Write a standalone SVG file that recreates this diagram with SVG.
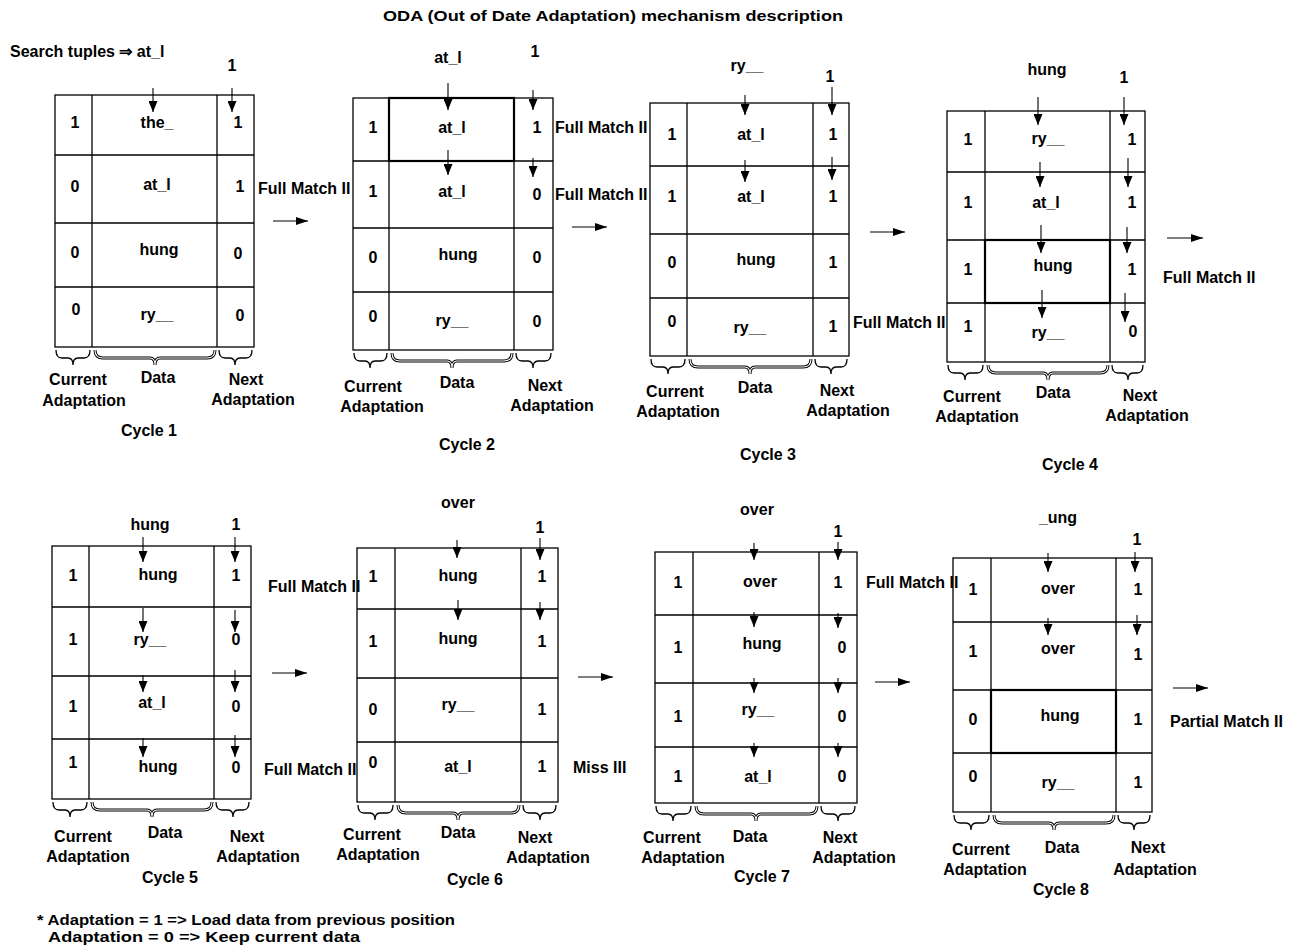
<svg xmlns="http://www.w3.org/2000/svg" width="1295" height="950" viewBox="0 0 1295 950">
<defs>
<style>
.t{font-family:"Liberation Sans",Arial,sans-serif;font-weight:bold;font-size:16px;fill:#000}
.m{text-anchor:middle}
.s{font-size:15px}
.grid{fill:none;stroke:#000;stroke-width:1.3}
.thick{fill:none;stroke:#000;stroke-width:2.2}
.ar{fill:none;stroke:#000;stroke-width:1.1;marker-end:url(#ah)}
.har{fill:none;stroke:#000;stroke-width:1.1;marker-end:url(#hh)}
.br{fill:none;stroke:#000;stroke-width:1.3}
.bro{fill:none;stroke:#000;stroke-width:3}
.bri{fill:none;stroke:#fff;stroke-width:1.1}
</style>
<marker id="ah" viewBox="0 0 11 9" refX="11" refY="4.5" markerWidth="11" markerHeight="9" markerUnits="userSpaceOnUse" orient="auto">
<path d="M0,0 L11,4.5 L0,9 z" fill="#000"/>
</marker>
<marker id="hh" viewBox="0 0 12 8" refX="12" refY="4" markerWidth="12" markerHeight="8" markerUnits="userSpaceOnUse" orient="auto">
<path d="M0,0 L12,4 L0,8 z" fill="#000"/>
</marker>
</defs>
<rect width="1295" height="950" fill="#fff"/>

<g id="title">
<text class="t m s" x="613" y="21" textLength="460" lengthAdjust="spacingAndGlyphs">ODA (Out of Date Adaptation) mechanism description</text>
<text class="t" x="10" y="57">Search tuples ⇒ at_l</text>
</g>

<!-- Cycle 1 -->
<g id="cycle1">
<rect class="grid" x="55" y="95" width="199" height="252"/>
<path class="grid" d="M92,95V347M217,95V347M55,155H254M55,223H254M55,287H254"/>
<text class="t m" x="232" y="71">1</text>
<text class="t m" x="75" y="128">1</text><text class="t m" x="157" y="128">the_</text><text class="t m" x="238" y="128">1</text>
<text class="t m" x="75" y="192">0</text><text class="t m" x="157" y="190">at_l</text><text class="t m" x="240" y="192">1</text>
<text class="t m" x="75" y="258">0</text><text class="t m" x="159" y="255">hung</text><text class="t m" x="238" y="259">0</text>
<text class="t m" x="76" y="315">0</text><text class="t m" x="157" y="320">ry__</text><text class="t m" x="240" y="321">0</text>
<text class="t" x="258" y="194">Full Match II</text>
<path class="br" d="M56,350Q56,358 62,358L68,358Q73,358 73,365Q73,358 78,358L84,358Q90,358 90,350"/>
<path class="bro" d="M95,350Q95,358 103,358L150,358Q155,358 155,365Q155,358 160,358L207,358Q215,358 215,350"/>
<path class="bri" d="M95,350Q95,358 103,358L150,358Q155,358 155,365Q155,358 160,358L207,358Q215,358 215,350"/>
<path class="br" d="M219,350Q219,358 225,358L230,358Q235,358 235,365Q235,358 240,358L246,358Q252,358 252,350"/>
<text class="t m" x="78" y="385">Current</text><text class="t m" x="84" y="406">Adaptation</text>
<text class="t m" x="158" y="383">Data</text>
<text class="t m" x="246" y="385">Next</text><text class="t m" x="253" y="405">Adaptation</text>
<text class="t m" x="149" y="436">Cycle 1</text>
</g>

<!-- Cycle 2 -->
<g id="cycle2">
<rect class="grid" x="353" y="98" width="200" height="252"/>
<path class="grid" d="M389,98V350M514,98V350M353,161H553M353,228H553M353,292H553"/>
<rect class="thick" x="389" y="98" width="125" height="63"/>
<text class="t m" x="448" y="63">at_l</text><text class="t m" x="535" y="57">1</text>
<text class="t m" x="373" y="133">1</text><text class="t m" x="452" y="133">at_l</text><text class="t m" x="537" y="133">1</text>
<text class="t m" x="373" y="197">1</text><text class="t m" x="452" y="197">at_l</text><text class="t m" x="537" y="200">0</text>
<text class="t m" x="373" y="263">0</text><text class="t m" x="458" y="260">hung</text><text class="t m" x="537" y="263">0</text>
<text class="t m" x="373" y="322">0</text><text class="t m" x="452" y="326">ry__</text><text class="t m" x="537" y="327">0</text>
<text class="t" x="555" y="133">Full Match II</text>
<text class="t" x="555" y="200">Full Match II</text>
<path class="br" d="M354,353Q354,361 360,361L365,361Q370,361 370,368Q370,361 375,361L381,361Q387,361 387,353"/>
<path class="bro" d="M392,353Q392,361 400,361L447,361Q452,361 452,368Q452,361 457,361L504,361Q512,361 512,353"/>
<path class="bri" d="M392,353Q392,361 400,361L447,361Q452,361 452,368Q452,361 457,361L504,361Q512,361 512,353"/>
<path class="br" d="M516,353Q516,361 522,361L528,361Q533,361 533,368Q533,361 538,361L545,361Q551,361 551,353"/>
<text class="t m" x="373" y="392">Current</text><text class="t m" x="382" y="412">Adaptation</text>
<text class="t m" x="457" y="388">Data</text>
<text class="t m" x="545" y="391">Next</text><text class="t m" x="552" y="411">Adaptation</text>
<text class="t m" x="467" y="450">Cycle 2</text>
</g>

<!-- Cycle 3 -->
<g id="cycle3">
<rect class="grid" x="650" y="103" width="199" height="253"/>
<path class="grid" d="M687,103V356M813,103V356M650,166H849M650,234H849M650,298H849"/>
<text class="t m" x="747" y="71">ry__</text><text class="t m" x="830" y="82">1</text>
<text class="t m" x="672" y="140">1</text><text class="t m" x="751" y="140">at_l</text><text class="t m" x="833" y="140">1</text>
<text class="t m" x="672" y="202">1</text><text class="t m" x="751" y="202">at_l</text><text class="t m" x="833" y="202">1</text>
<text class="t m" x="672" y="268">0</text><text class="t m" x="756" y="265">hung</text><text class="t m" x="833" y="268">1</text>
<text class="t m" x="672" y="327">0</text><text class="t m" x="750" y="333">ry__</text><text class="t m" x="833" y="332">1</text>
<text class="t" x="853" y="328">Full Match II</text>
<path class="br" d="M651,359Q651,367 657,367L663,367Q668,367 668,374Q668,367 673,367L679,367Q685,367 685,359"/>
<path class="bro" d="M690,359Q690,367 698,367L745,367Q750,367 750,374Q750,367 755,367L803,367Q811,367 811,359"/>
<path class="bri" d="M690,359Q690,367 698,367L745,367Q750,367 750,374Q750,367 755,367L803,367Q811,367 811,359"/>
<path class="br" d="M815,359Q815,367 821,367L826,367Q831,367 831,374Q831,367 836,367L841,367Q847,367 847,359"/>
<text class="t m" x="675" y="397">Current</text><text class="t m" x="678" y="417">Adaptation</text>
<text class="t m" x="755" y="393">Data</text>
<text class="t m" x="837" y="396">Next</text><text class="t m" x="848" y="416">Adaptation</text>
<text class="t m" x="768" y="460">Cycle 3</text>
</g>

<!-- Cycle 4 -->
<g id="cycle4">
<rect class="grid" x="947" y="111" width="198" height="251"/>
<path class="grid" d="M985,111V362M1110,111V362M947,172H1145M947,240H1145M947,303H1145"/>
<rect class="thick" x="985" y="240" width="125" height="63"/>
<text class="t m" x="1047" y="75">hung</text><text class="t m" x="1124" y="83">1</text>
<text class="t m" x="968" y="145">1</text><text class="t m" x="1048" y="144">ry__</text><text class="t m" x="1132" y="145">1</text>
<text class="t m" x="968" y="208">1</text><text class="t m" x="1046" y="208">at_l</text><text class="t m" x="1132" y="208">1</text>
<text class="t m" x="968" y="275">1</text><text class="t m" x="1053" y="271">hung</text><text class="t m" x="1132" y="275">1</text>
<text class="t m" x="968" y="332">1</text><text class="t m" x="1048" y="338">ry__</text><text class="t m" x="1133" y="337">0</text>
<text class="t" x="1163" y="283">Full Match II</text>
<path class="br" d="M948,365Q948,373 954,373L960,373Q965,373 965,380Q965,373 970,373L977,373Q983,373 983,365"/>
<path class="bro" d="M988,365Q988,373 996,373L1043,373Q1048,373 1048,380Q1048,373 1053,373L1100,373Q1108,373 1108,365"/>
<path class="bri" d="M988,365Q988,373 996,373L1043,373Q1048,373 1048,380Q1048,373 1053,373L1100,373Q1108,373 1108,365"/>
<path class="br" d="M1112,365Q1112,373 1118,373L1123,373Q1128,373 1128,380Q1128,373 1133,373L1137,373Q1143,373 1143,365"/>
<text class="t m" x="972" y="402">Current</text><text class="t m" x="977" y="422">Adaptation</text>
<text class="t m" x="1053" y="398">Data</text>
<text class="t m" x="1140" y="401">Next</text><text class="t m" x="1147" y="421">Adaptation</text>
<text class="t m" x="1070" y="470">Cycle 4</text>
</g>

<!-- Cycle 5 -->
<g id="cycle5">
<rect class="grid" x="52" y="546" width="199" height="253"/>
<path class="grid" d="M89,546V799M214,546V799M52,607H251M52,676H251M52,739H251"/>
<text class="t m" x="150" y="530">hung</text><text class="t m" x="236" y="530">1</text>
<text class="t m" x="73" y="581">1</text><text class="t m" x="158" y="580">hung</text><text class="t m" x="236" y="581">1</text>
<text class="t m" x="73" y="645">1</text><text class="t m" x="150" y="645">ry__</text><text class="t m" x="236" y="645">0</text>
<text class="t m" x="73" y="712">1</text><text class="t m" x="152" y="708">at_l</text><text class="t m" x="236" y="712">0</text>
<text class="t m" x="73" y="768">1</text><text class="t m" x="158" y="772">hung</text><text class="t m" x="236" y="773">0</text>
<text class="t" x="268" y="592">Full Match II</text>
<text class="t" x="264" y="775">Full Match II</text>
<path class="br" d="M53,802Q53,810 59,810L65,810Q70,810 70,817Q70,810 75,810L81,810Q87,810 87,802"/>
<path class="bro" d="M92,802Q92,810 100,810L147,810Q152,810 152,817Q152,810 157,810L204,810Q212,810 212,802"/>
<path class="bri" d="M92,802Q92,810 100,810L147,810Q152,810 152,817Q152,810 157,810L204,810Q212,810 212,802"/>
<path class="br" d="M216,802Q216,810 222,810L228,810Q233,810 233,817Q233,810 238,810L243,810Q249,810 249,802"/>
<text class="t m" x="83" y="842">Current</text><text class="t m" x="88" y="862">Adaptation</text>
<text class="t m" x="165" y="838">Data</text>
<text class="t m" x="247" y="842">Next</text><text class="t m" x="258" y="862">Adaptation</text>
<text class="t m" x="170" y="883">Cycle 5</text>
</g>

<!-- Cycle 6 -->
<g id="cycle6">
<rect class="grid" x="357" y="548" width="201" height="254"/>
<path class="grid" d="M395,548V802M521,548V802M357,609H558M357,678H558M357,742H558"/>
<text class="t m" x="458" y="508">over</text><text class="t m" x="540" y="533">1</text>
<text class="t m" x="373" y="582">1</text><text class="t m" x="458" y="581">hung</text><text class="t m" x="542" y="582">1</text>
<text class="t m" x="373" y="647">1</text><text class="t m" x="458" y="644">hung</text><text class="t m" x="542" y="647">1</text>
<text class="t m" x="373" y="715">0</text><text class="t m" x="458" y="710">ry__</text><text class="t m" x="542" y="715">1</text>
<text class="t m" x="373" y="768">0</text><text class="t m" x="458" y="772">at_l</text><text class="t m" x="542" y="772">1</text>
<text class="t" x="573" y="773">Miss III</text>
<path class="br" d="M358,805Q358,813 364,813L370,813Q375,813 375,820Q375,813 380,813L387,813Q393,813 393,805"/>
<path class="bro" d="M398,805Q398,813 406,813L453,813Q458,813 458,820Q458,813 463,813L511,813Q519,813 519,805"/>
<path class="bri" d="M398,805Q398,813 406,813L453,813Q458,813 458,820Q458,813 463,813L511,813Q519,813 519,805"/>
<path class="br" d="M523,805Q523,813 529,813L535,813Q540,813 540,820Q540,813 545,813L550,813Q556,813 556,805"/>
<text class="t m" x="372" y="840">Current</text><text class="t m" x="378" y="860">Adaptation</text>
<text class="t m" x="458" y="838">Data</text>
<text class="t m" x="535" y="843">Next</text><text class="t m" x="548" y="863">Adaptation</text>
<text class="t m" x="475" y="885">Cycle 6</text>
</g>

<!-- Cycle 7 -->
<g id="cycle7">
<rect class="grid" x="655" y="552" width="202" height="251"/>
<path class="grid" d="M693,552V803M819,552V803M655,615H857M655,683H857M655,747H857"/>
<text class="t m" x="757" y="515">over</text><text class="t m" x="838" y="537">1</text>
<text class="t m" x="678" y="588">1</text><text class="t m" x="760" y="587">over</text><text class="t m" x="838" y="588">1</text>
<text class="t m" x="678" y="653">1</text><text class="t m" x="762" y="649">hung</text><text class="t m" x="842" y="653">0</text>
<text class="t m" x="678" y="722">1</text><text class="t m" x="758" y="715">ry__</text><text class="t m" x="842" y="722">0</text>
<text class="t m" x="678" y="782">1</text><text class="t m" x="758" y="782">at_l</text><text class="t m" x="842" y="782">0</text>
<text class="t" x="866" y="588">Full Match II</text>
<path class="br" d="M656,806Q656,814 662,814L668,814Q673,814 673,821Q673,814 678,814L685,814Q691,814 691,806"/>
<path class="bro" d="M696,806Q696,814 704,814L751,814Q756,814 756,821Q756,814 761,814L809,814Q817,814 817,806"/>
<path class="bri" d="M696,806Q696,814 704,814L751,814Q756,814 756,821Q756,814 761,814L809,814Q817,814 817,806"/>
<path class="br" d="M821,806Q821,814 827,814L833,814Q838,814 838,821Q838,814 843,814L849,814Q855,814 855,806"/>
<text class="t m" x="672" y="843">Current</text><text class="t m" x="683" y="863">Adaptation</text>
<text class="t m" x="750" y="842">Data</text>
<text class="t m" x="840" y="843">Next</text><text class="t m" x="854" y="863">Adaptation</text>
<text class="t m" x="762" y="882">Cycle 7</text>
</g>

<!-- Cycle 8 -->
<g id="cycle8">
<rect class="grid" x="953" y="558" width="199" height="254"/>
<path class="grid" d="M991,558V812M1116,558V812M953,622H1152M953,690H1152M953,753H1152"/>
<rect class="thick" x="991" y="690" width="125" height="63"/>
<text class="t m" x="1058" y="523">_ung</text><text class="t m" x="1137" y="545">1</text>
<text class="t m" x="973" y="595">1</text><text class="t m" x="1058" y="594">over</text><text class="t m" x="1138" y="595">1</text>
<text class="t m" x="973" y="657">1</text><text class="t m" x="1058" y="654">over</text><text class="t m" x="1138" y="660">1</text>
<text class="t m" x="973" y="725">0</text><text class="t m" x="1060" y="721">hung</text><text class="t m" x="1138" y="725">1</text>
<text class="t m" x="973" y="782">0</text><text class="t m" x="1058" y="788">ry__</text><text class="t m" x="1138" y="788">1</text>
<text class="t" x="1170" y="727">Partial Match II</text>
<path class="br" d="M954,815Q954,823 960,823L966,823Q971,823 971,830Q971,823 976,823L983,823Q989,823 989,815"/>
<path class="bro" d="M994,815Q994,823 1002,823L1049,823Q1054,823 1054,830Q1054,823 1059,823L1106,823Q1114,823 1114,815"/>
<path class="bri" d="M994,815Q994,823 1002,823L1049,823Q1054,823 1054,830Q1054,823 1059,823L1106,823Q1114,823 1114,815"/>
<path class="br" d="M1118,815Q1118,823 1124,823L1129,823Q1134,823 1134,830Q1134,823 1139,823L1144,823Q1150,823 1150,815"/>
<text class="t m" x="981" y="855">Current</text><text class="t m" x="985" y="875">Adaptation</text>
<text class="t m" x="1062" y="853">Data</text>
<text class="t m" x="1148" y="853">Next</text><text class="t m" x="1155" y="875">Adaptation</text>
<text class="t m" x="1061" y="895">Cycle 8</text>
</g>

<g id="note">
<text class="t s" x="37" y="925" textLength="418" lengthAdjust="spacingAndGlyphs">* Adaptation = 1 =&gt; Load data from previous position</text>
<text class="t s" x="48" y="942" textLength="312" lengthAdjust="spacingAndGlyphs">Adaptation = 0 =&gt; Keep current data</text>
</g>

<g id="connectors">
<!-- cycle 1 -->
<path class="ar" d="M153,88V112"/><path class="ar" d="M232,88V112"/>
<path class="har" d="M273,221H308"/>
<!-- cycle 2 -->
<path class="ar" d="M448,83V110"/><path class="ar" d="M533,90V110"/>
<path class="ar" d="M448,150V175"/><path class="ar" d="M533,158V177"/>
<path class="har" d="M572,227H607"/>
<!-- cycle 3 -->
<path class="ar" d="M745,95V115"/><path class="ar" d="M832,87V115"/>
<path class="ar" d="M745,160V182"/><path class="ar" d="M832,157V180"/>
<path class="har" d="M870,232H905"/>
<!-- cycle 4 -->
<path class="ar" d="M1038,97V125"/><path class="ar" d="M1124,97V125"/>
<path class="ar" d="M1040,162V187"/><path class="ar" d="M1128,158V187"/>
<path class="ar" d="M1041,225V253"/><path class="ar" d="M1127,227V253"/>
<path class="ar" d="M1042,290V318"/><path class="ar" d="M1125,293V322"/>
<path class="har" d="M1167,238H1203"/>
<!-- cycle 5 -->
<path class="ar" d="M143,537V562"/><path class="ar" d="M235,537V562"/>
<path class="ar" d="M143,608V632"/><path class="ar" d="M235,610V632"/>
<path class="ar" d="M143,675V692"/><path class="ar" d="M235,670V692"/>
<path class="ar" d="M143,738V757"/><path class="ar" d="M235,735V757"/>
<path class="har" d="M272,673H307"/>
<!-- cycle 6 -->
<path class="ar" d="M457,540V558"/><path class="ar" d="M540,538V560"/>
<path class="ar" d="M458,600V620"/><path class="ar" d="M540,602V620"/>
<path class="har" d="M578,677H613"/>
<!-- cycle 7 -->
<path class="ar" d="M754,543V560"/><path class="ar" d="M838,542V560"/>
<path class="ar" d="M754,612V627"/><path class="ar" d="M838,613V628"/>
<path class="ar" d="M754,678V693"/><path class="ar" d="M838,678V693"/>
<path class="ar" d="M754,743V757"/><path class="ar" d="M838,743V757"/>
<path class="har" d="M875,682H910"/>
<!-- cycle 8 -->
<path class="ar" d="M1048,553V572"/><path class="ar" d="M1135,552V572"/>
<path class="ar" d="M1048,618V635"/><path class="ar" d="M1137,615V635"/>
<path class="har" d="M1173,688H1208"/>
</g>
</svg>
